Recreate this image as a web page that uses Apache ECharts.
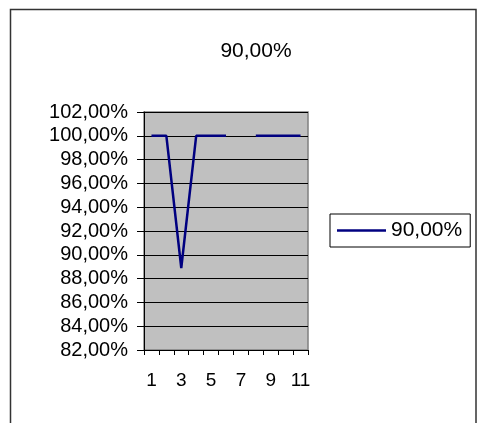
<!DOCTYPE html>
<html>
<head>
<meta charset="utf-8">
<script src="https://cdn.jsdelivr.net/npm/echarts@6/dist/echarts.min.js"></script>
<style>
html,body{margin:0;padding:0;background:#fff;}
#c{width:477px;height:423px;}
</style>
</head>
<body>
<div id="c"></div>
<script>
var titleText = "90,00%";
var seriesName = "90,00%";
var categories = ["1","2","3","4","5","6","7","8","9","10","11"];
var values = [100, 100, 88.89, 100, 100, 100, null, 100, 100, 100, 100];
var yMin = 82, yMax = 102, yStep = 2;

function pct(v){ return v.toFixed(2).replace('.', ',') + '%'; }
var FF = '"Liberation Sans", Arial, sans-serif';

var chart = echarts.init(document.getElementById('c'), null, {renderer:'canvas'});
chart.setOption({
  animation: false,
  backgroundColor: '#ffffff',
  textStyle: {fontFamily: FF},
  title: {
    text: titleText,
    left: 251, top: 36, textAlign: 'center',
    textStyle: {fontSize: 21, fontWeight: 'normal', color: '#000', fontFamily: FF}
  },
  graphic: [{
    type: 'rect', silent: true, z: 0,
    shape: {x: 10.5, y: 9.5, width: 465.5, height: 430},
    style: {fill: 'none', stroke: '#333333', lineWidth: 1.5}
  }],
  legend: {
    data: [seriesName],
    left: 330, top: 214,
    orient: 'vertical',
    padding: [6, 8, 6, 7],
    itemWidth: 49, itemHeight: 21, itemGap: 0,
    borderColor: '#000', borderWidth: 1,
    backgroundColor: '#fff',
    icon: 'path://M0,9 L50,9 L50,11.5 L0,11.5 Z',
    textStyle: {fontSize: 21, color: '#000', fontFamily: FF}
  },
  grid: {
    left: 144, top: 112, width: 164, height: 238,
    show: true, backgroundColor: '#c0c0c0', borderColor: '#808080', borderWidth: 1.5
  },
  xAxis: {
    type: 'category', data: categories, boundaryGap: true,
    axisLine: {lineStyle: {color: '#000', width: 1}},
    axisTick: {show: true, interval: 0, length: 5, lineStyle: {color: '#000'}},
    axisLabel: {interval: 1, fontSize: 19, color: '#000', margin: 21, fontFamily: FF},
    splitLine: {show: false}
  },
  yAxis: {
    type: 'value', min: yMin, max: yMax, interval: yStep,
    axisLine: {show: true, lineStyle: {color: '#000', width: 1}},
    axisTick: {show: true, length: 7, lineStyle: {color: '#000'}},
    axisLabel: {formatter: function(v){return pct(v);}, fontSize: 20, color: '#000', margin: 16, fontFamily: FF},
    splitLine: {show: true, lineStyle: {color: '#000', width: 1}}
  },
  series: [{
    name: seriesName, type: 'line', data: values,
    symbol: 'none', connectNulls: false,
    lineStyle: {color: '#000080', width: 2.5},
    itemStyle: {color: '#000080'}
  }]
});
</script>
</body>
</html>
